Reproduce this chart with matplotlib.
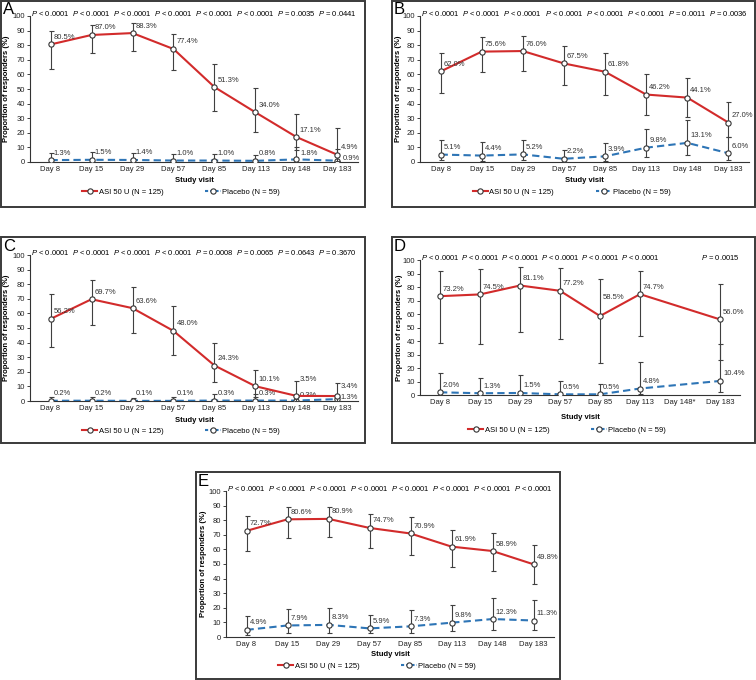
import numpy as np
import matplotlib
matplotlib.use('Agg')
import matplotlib.pyplot as plt
from matplotlib.lines import Line2D
from matplotlib.patches import Rectangle

plt.rcParams['font.family'] = ['Liberation Sans', 'DejaVu Sans']
plt.rcParams['mathtext.fontset'] = 'custom'
plt.rcParams['mathtext.it'] = 'Liberation Sans:italic'
plt.rcParams['mathtext.rm'] = 'Liberation Sans'

days = ['Day 8', 'Day 15', 'Day 29', 'Day 57', 'Day 85', 'Day 113', 'Day 148', 'Day 183']
days_d = ['Day 8', 'Day 15', 'Day 29', 'Day 57', 'Day 85', 'Day 113', 'Day 148*', 'Day 183']
nan = np.nan

# panel A
a_asi = [80.5, 87.0, 88.3, 77.4, 51.3, 34.0, 17.1, 4.9]
a_asi_hi = [90, 94, 95, 87.5, 67, 50.5, 33, 23]
a_asi_lo = [63.5, 74.5, 76, 63, 35, 20.5, 8, 0.5]
a_pbo = [1.3, 1.5, 1.4, 1.0, 1.0, 0.8, 1.8, 0.9]
a_pbo_hi = [6, 7, 6.5, 5.5, 5.5, 5, 10, 9]
a_pbo_lo = [0, 0, 0, 0, 0, 0, 0, 0]
a_p = ['< 0.0001'] * 6 + ['= 0.0035', '= 0.0441']

# panel B
b_asi = [62.0, 75.6, 76.0, 67.5, 61.8, 46.2, 44.1, 27.0]
b_asi_hi = [75, 85.5, 86, 79.5, 75, 60, 57.5, 41]
b_asi_lo = [47, 61.5, 62, 52.5, 46, 32.5, 31, 17]
b_pbo = [5.1, 4.4, 5.2, 2.2, 3.9, 9.8, 13.1, 6.0]
b_pbo_hi = [15, 14, 15, 8.5, 13, 22.5, 29, 17]
b_pbo_lo = [1.5, 1, 1.5, 0, 0.5, 3.5, 5, 1.5]
b_p = ['< 0.0001'] * 6 + ['= 0.0011', '= 0.0036']

# panel C
c_asi = [56.2, 69.7, 63.6, 48.0, 24.3, 10.1, 3.5, 3.4]
c_asi_hi = [73.5, 83, 78, 65, 40, 21.5, 13.5, 12.5]
c_asi_lo = [37, 52, 46.5, 31.5, 13, 3, 0, 0]
c_pbo = [0.2, 0.2, 0.1, 0.1, 0.3, 0.3, 0.3, 1.3]
c_pbo_hi = [3, 3, 2, 2.5, 4.5, 4.5, 3, 3]
c_pbo_lo = [0, 0, 0, 0, 0, 0, 0, 0]
c_p = ['< 0.0001'] * 4 + ['= 0.0008', '= 0.0065', '= 0.0643', '= 0.3670']

# panel D (no Day 148 visit)
d_asi = [73.2, 74.5, 81.1, 77.2, 58.5, 74.7, nan, 56.0]
d_asi_hi = [92, 93, 95, 94, 86, 91.5, nan, 82]
d_asi_lo = [38.5, 37.5, 46.5, 41.5, 23.5, 43.5, nan, 26]
d_pbo = [2.0, 1.3, 1.5, 0.5, 0.5, 4.8, nan, 10.4]
d_pbo_hi = [16, 12.5, 14.5, 10.5, 8, 24.5, nan, 37.5]
d_pbo_lo = [0, 0, 0, 0, 0, 0.5, nan, 2.5]
d_p = ['< 0.0001'] * 6 + ['', '= 0.0015']

# panel E
e_asi = [72.7, 80.6, 80.9, 74.7, 70.9, 61.9, 58.9, 49.8]
e_asi_hi = [83, 89, 89, 84.5, 82, 73.5, 71, 63]
e_asi_lo = [59, 68, 68.5, 61, 56, 48, 45, 36]
e_pbo = [4.9, 7.9, 8.3, 5.9, 7.3, 9.8, 12.3, 11.3]
e_pbo_hi = [14.5, 19, 20, 15, 18.5, 22, 27, 25.5]
e_pbo_lo = [1.5, 3, 3, 2.5, 2.5, 4, 5, 4.5]
e_p = ['< 0.0001'] * 8

RED = '#d22b2b'
BLUE = '#2e75b6'
EDGE = '#333333'
W, H = 756, 680
fs = 5.5

fig = plt.figure(figsize=(W / 100, H / 100), dpi=100)


def px_rect(left, top, right, bottom):
    return [left / W, 1 - bottom / H, (right - left) / W, (bottom - top) / H]


def draw_series(ax, x, vals, hi, lo, color, ls, offsets, z):
    vals = np.array(vals, float)
    hi = np.array(hi, float)
    lo = np.array(lo, float)
    ok = np.isfinite(vals)
    ax.errorbar(x[ok], vals[ok], yerr=[vals[ok] - lo[ok], hi[ok] - vals[ok]],
                fmt='none', ecolor='#404040', elinewidth=0.8, capsize=1.8,
                capthick=0.8, zorder=z)
    ax.plot(x[ok], vals[ok], color=color, lw=1.5, linestyle=ls, zorder=z + 1)
    ax.plot(x[ok], vals[ok], 'o', ms=3.8, mfc='white', mec=EDGE, mew=0.8,
            zorder=z + 2)
    for i in np.where(ok)[0]:
        dx, dy = offsets.get(i, (3, 7))
        ax.annotate('%.1f%%' % vals[i], (x[i], vals[i]),
                    xytext=(dx * 0.72, dy * 0.72), textcoords='offset points',
                    ha='left', va='center', fontsize=fs, color='#333333',
                    zorder=z + 3)


def panel(letter, geom, box, labels, asi, asi_hi, asi_lo, pbo, pbo_hi, pbo_lo,
          pvals, asi_off=None, pbo_off=None, xl_px=19, leg_px=30, ylab_px=-20):
    left, top, right, bottom = geom
    wpx, hpx = right - left, bottom - top
    ax = fig.add_axes(px_rect(*geom))
    x = np.arange(len(labels))
    draw_series(ax, x, pbo, pbo_hi, pbo_lo, BLUE, (0, (3.5, 2)), pbo_off or {}, 3)
    draw_series(ax, x, asi, asi_hi, asi_lo, RED, '-', asi_off or {}, 6)
    ax.set_xlim(-0.5, len(labels) - 0.5)
    ax.set_ylim(0, 100)
    ax.set_yticks(range(0, 101, 10))
    ax.set_xticks(x)
    ax.set_xticklabels(labels)
    ax.tick_params(axis='x', length=0, pad=3, labelsize=fs, colors='#222222')
    ax.tick_params(axis='y', length=2.2, width=0.6, pad=1.5, labelsize=fs,
                   colors='#222222')
    for s in ['top', 'right']:
        ax.spines[s].set_visible(False)
    for s in ['left', 'bottom']:
        ax.spines[s].set_linewidth(0.8)
        ax.spines[s].set_color('#333333')
    ax.set_ylabel('Proportion of responders (%)', fontsize=fs, fontweight='bold')
    ax.yaxis.set_label_coords(ylab_px / wpx, 0.5)
    ax.text(0.5, -xl_px / hpx, 'Study visit', transform=ax.transAxes,
            ha='center', va='center', fontsize=fs, fontweight='bold')
    for i, p in enumerate(pvals):
        if p:
            ax.text(x[i], 101.5, '$P$ ' + p, ha='center', va='center',
                    fontsize=fs, clip_on=False)
    handles = [Line2D([], [], color=RED, lw=1.5, marker='o', ms=3.8, mfc='white',
                      mec=EDGE, mew=0.8),
               Line2D([], [], color=BLUE, lw=1.5, linestyle=(0, (1.5, 1)),
                      marker='o', ms=3.8, mfc='white', mec=EDGE, mew=0.8)]
    ax.legend(handles, ['ASI 50 U (N = 125)', 'Placebo (N = 59)'], loc='center',
              bbox_to_anchor=(0.5 - 13 / wpx, -leg_px / hpx), ncol=2,
              frameon=False, fontsize=fs, handlelength=2.0, handletextpad=0.2,
              columnspacing=5.5)
    bl, bt, br, bb = box
    fig.patches.append(Rectangle((bl / W, 1 - bb / H), (br - bl) / W, (bb - bt) / H,
                                 transform=fig.transFigure, fill=False,
                                 edgecolor='#3a3a3a', lw=1.4))
    fig.text((bl + 2) / W, 1 - (bt + 9) / H, letter, fontsize=12,
             ha='left', va='center')
    return ax


panel('A', (30, 16, 358, 162), (1, 1, 365, 207), days,
      a_asi, a_asi_hi, a_asi_lo, a_pbo, a_pbo_hi, a_pbo_lo, a_p,
      pbo_off={6: (4, 6), 7: (5, 2)})
panel('B', (420, 16, 749, 162), (392, 1, 755, 207), days,
      b_asi, b_asi_hi, b_asi_lo, b_pbo, b_pbo_hi, b_pbo_lo, b_p, ylab_px=-18)
panel('C', (30, 255, 358, 401), (1, 237, 365, 443), days,
      c_asi, c_asi_hi, c_asi_lo, c_pbo, c_pbo_hi, c_pbo_lo, c_p,
      asi_off={6: (3, 16), 7: (3, 10)}, pbo_off={6: (3, 5), 7: (3, 2)})
panel('D', (420, 260, 740, 395), (392, 237, 755, 443), days_d,
      d_asi, d_asi_hi, d_asi_lo, d_pbo, d_pbo_hi, d_pbo_lo, d_p,
      asi_off={4: (3, 19)}, xl_px=22, leg_px=35, ylab_px=-17)
panel('E', (226, 491, 554, 637), (196, 472, 560, 679), days,
      e_asi, e_asi_hi, e_asi_lo, e_pbo, e_pbo_hi, e_pbo_lo, e_p,
      xl_px=18, leg_px=29, ylab_px=-19)

fig.savefig('out.png', dpi=100)
